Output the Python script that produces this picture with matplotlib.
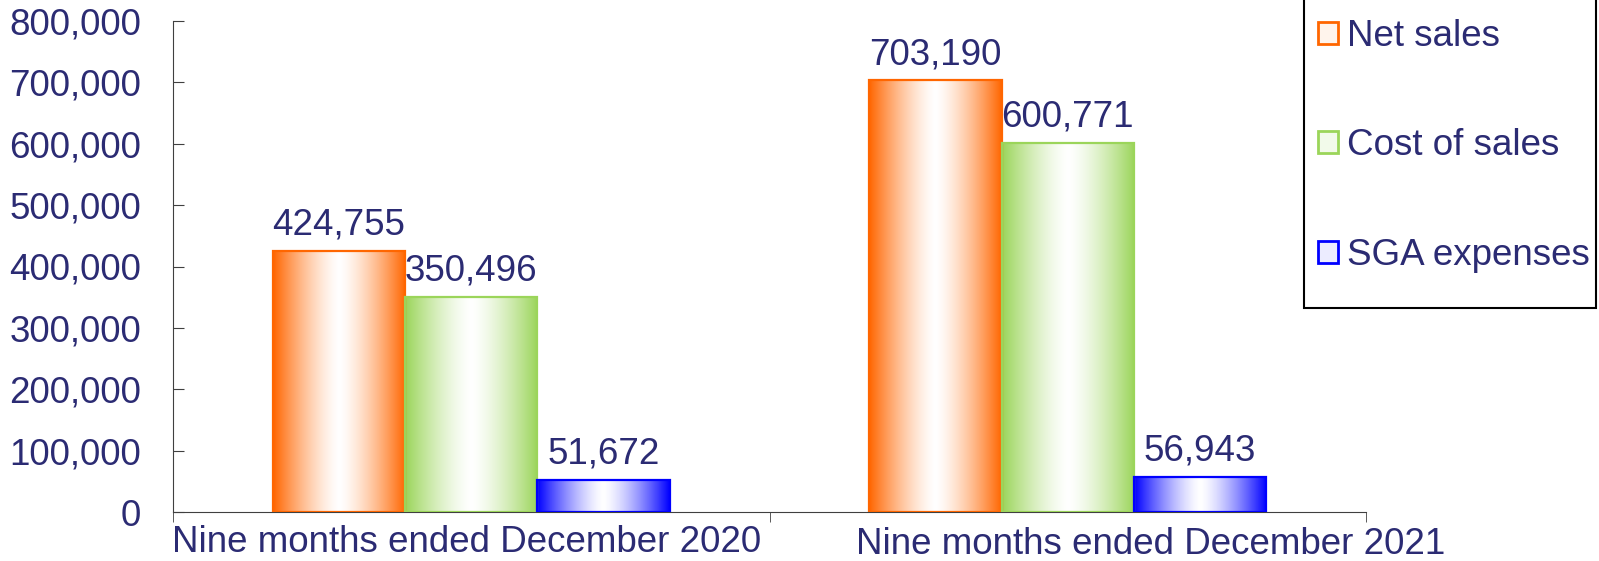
import numpy as np
import matplotlib.pyplot as plt
from matplotlib.patches import Patch, Rectangle
from matplotlib.ticker import FuncFormatter, FixedLocator
import matplotlib.transforms as mtransforms

categories = ["Nine months ended December 2020", "Nine months ended December 2021"]
series = ["Net sales", "Cost of sales", "SGA expenses"]
net_sales = [424755, 703190]
cost_of_sales = [350496, 600771]
sga_expenses = [51672, 56943]
colors = ["#FF6600", "#9BD55A", "#0000FF"]
text_color = "#2B2B73"

plt.rcParams['font.family'] = ['Liberation Sans', 'DejaVu Sans']


def gradient_img(color):
    rgb = np.array(plt.matplotlib.colors.to_rgb(color))
    x = np.linspace(0, 1, 200)
    t = np.abs(x - 0.5) * 2
    t = t ** 1.4
    img = 1 + (rgb[None, :] - 1) * t[:, None]
    return img[None, :, :]


def main():
    W, H = 1599, 561
    fig = plt.figure(figsize=(W / 100, H / 100), dpi=100)
    ax = fig.add_axes([173 / W, 1 - 512 / H, (1366 - 173) / W, (512 - 21) / H])
    fs = 26.5

    data = [net_sales, cost_of_sales, sga_expenses]
    x = np.arange(len(categories))
    w = 0.222
    for i, (vals, c) in enumerate(zip(data, colors)):
        pos = x + (i - 1) * w
        bars = ax.bar(pos, vals, w, facecolor="none", edgecolor=c, linewidth=1.6, zorder=3)
        for b, v in zip(bars, vals):
            x0, x1 = b.get_x(), b.get_x() + b.get_width()
            ax.imshow(gradient_img(c), extent=[x0, x1, 0, v], aspect="auto", zorder=2,
                      interpolation="bilinear")
            ax.annotate(f"{v:,}", (b.get_x() + b.get_width() / 2, v), xytext=(0, 6),
                        textcoords="offset points", ha="center", va="bottom",
                        fontsize=fs, color=text_color)

    ax.set_xlim(-0.5, len(categories) - 0.5)
    ax.set_ylim(0, 800000)
    ax.set_yticks(np.arange(0, 800001, 100000))
    ax.yaxis.set_major_formatter(FuncFormatter(lambda v, p: f"{int(v):,}"))
    ax.tick_params(axis="y", direction="in", length=8, labelsize=fs, labelcolor=text_color,
                   color="#404040", pad=23)

    ax.set_xticks(x)
    ax.set_xticklabels(categories)
    ax.xaxis.set_minor_locator(FixedLocator([-0.5, 0.5, 1.5]))
    ax.tick_params(axis="x", which="major", length=0, labelsize=fs, labelcolor=text_color, pad=9)
    ax.tick_params(axis="x", which="minor", direction="out", length=7, color="#404040")
    # labels are not quite centred in the original
    lbls = ax.get_xticklabels()
    lbls[0].set_transform(lbls[0].get_transform() + mtransforms.ScaledTranslation(-5 / 100, 0, fig.dpi_scale_trans))
    lbls[1].set_transform(lbls[1].get_transform() + mtransforms.ScaledTranslation(83 / 100, -3 / 100, fig.dpi_scale_trans))

    for s in ["top", "right"]:
        ax.spines[s].set_visible(False)
    ax.spines["left"].set_color("#404040")
    ax.spines["bottom"].set_color("#404040")

    # legend box, its top runs off the picture
    fig.patches.append(Rectangle((1304 / W, 1 - 308 / H), (1596 - 1304) / W, 320 / H,
                                 transform=fig.transFigure, facecolor="white",
                                 edgecolor="black", linewidth=1.5, zorder=0))
    handles = [Patch(facecolor="#FFF4EC", edgecolor=colors[0], linewidth=2),
               Patch(facecolor="#F2FAEA", edgecolor=colors[1], linewidth=2),
               Patch(facecolor="#ECECFF", edgecolor=colors[2], linewidth=2)]
    fig.legend(handles, series, loc="upper left", bbox_to_anchor=(1318 / W, 1 - 19 / H),
               frameon=False, fontsize=fs, labelcolor=text_color,
               handlelength=0.55, handleheight=0.55, handletextpad=0.25,
               labelspacing=2.02, borderpad=0, borderaxespad=0)

    fig.savefig("out.png", dpi=100)


if __name__ == "__main__":
    main()
